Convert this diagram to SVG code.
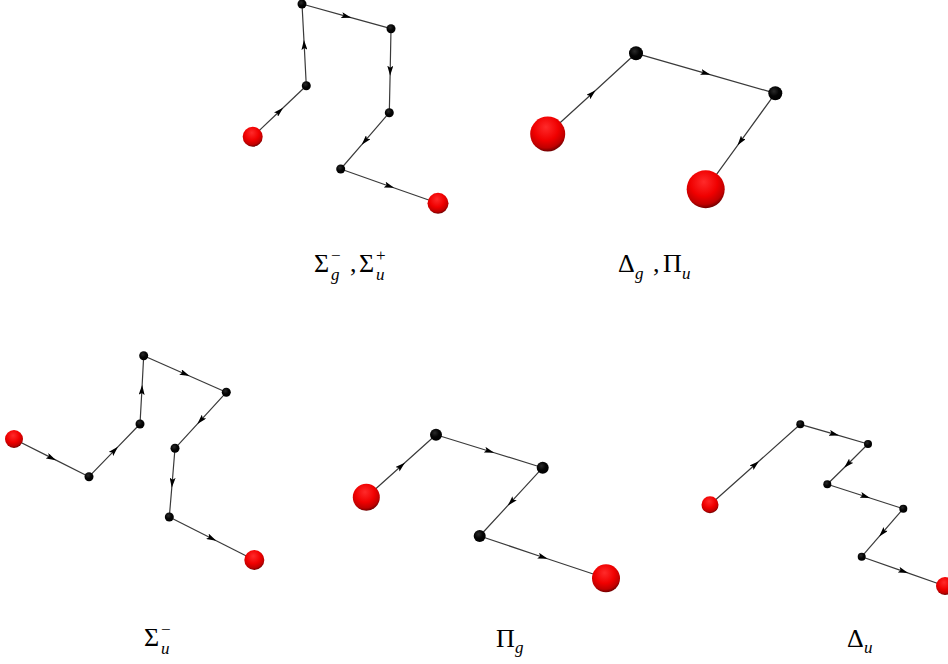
<svg xmlns="http://www.w3.org/2000/svg" width="948" height="664" viewBox="0 0 948 664">
<defs>
<radialGradient id="gRed" cx="0.45" cy="0.35" r="0.65" fx="0.45" fy="0.3">
<stop offset="0" stop-color="#ff2a2a"/>
<stop offset="0.55" stop-color="#f00000"/>
<stop offset="0.85" stop-color="#c00000"/>
<stop offset="1" stop-color="#700000"/>
</radialGradient>
<radialGradient id="gBlk" cx="0.4" cy="0.35" r="0.7">
<stop offset="0" stop-color="#2a2a2a"/>
<stop offset="0.5" stop-color="#050505"/>
<stop offset="1" stop-color="#000"/>
</radialGradient>
<marker id="arr" markerUnits="userSpaceOnUse" viewBox="0 0 10 6" markerWidth="10" markerHeight="6" refX="5" refY="3" orient="auto">
<path d="M0,0 L10,3 L0,6 L2,3 z" fill="#000"/>
</marker>
</defs>
<style>
.e{fill:none;stroke:#3a3a3a;stroke-width:1.2;marker-mid:url(#arr)}
.r{fill:url(#gRed)}
.b{fill:url(#gBlk)}
.t{font-family:"Liberation Serif","Times New Roman",serif;font-size:26px;fill:#000}
.s{font-family:"Liberation Serif","Times New Roman",serif;font-size:17px;font-style:italic;fill:#000}
.p{font-family:"Liberation Serif","Times New Roman",serif;font-size:17px;fill:#000}
</style>

<g id="connectors">
<path class="e" d="M252.7,136.7 L279.5,111.2 L306.3,85.7"/>
<path class="e" d="M306.3,85.7 L304.2,44.9 L302,4"/>
<path class="e" d="M302,4 L346.5,16.4 L391,28.7"/>
<path class="e" d="M391,28.7 L390.2,70.7 L389.3,112.7"/>
<path class="e" d="M389.3,112.7 L365,140.9 L340.7,169"/>
<path class="e" d="M340.7,169 L389.4,186.2 L438,203.3"/>
<path class="e" d="M547.7,134 L591.9,93.7 L636,53.3"/>
<path class="e" d="M636,53.3 L705.7,73.3 L775.3,93.3"/>
<path class="e" d="M775.3,93.3 L740.5,141.3 L705.7,189.3"/>
<path class="e" d="M14,439 L51.5,457.9 L89,476.7"/>
<path class="e" d="M89,476.7 L114.5,450.4 L140,424"/>
<path class="e" d="M140,424 L141.9,389.9 L143.7,355.7"/>
<path class="e" d="M143.7,355.7 L185,374 L226.3,392.3"/>
<path class="e" d="M226.3,392.3 L200.7,420.3 L175,448.3"/>
<path class="e" d="M175,448.3 L172.2,482.7 L169.3,517"/>
<path class="e" d="M169.3,517 L211.8,538.5 L254.3,560"/>
<path class="e" d="M366.3,497.3 L401.2,466 L436,434.7"/>
<path class="e" d="M436,434.7 L489.4,451.2 L542.7,467.7"/>
<path class="e" d="M542.7,467.7 L511.2,501.9 L479.7,536"/>
<path class="e" d="M479.7,536 L542.9,557.2 L606,578.3"/>
<path class="e" d="M710,504.7 L755.2,464.5 L800.3,424.3"/>
<path class="e" d="M800.3,424.3 L834.2,434.2 L868,444"/>
<path class="e" d="M868,444 L847.7,464.2 L827.3,484.3"/>
<path class="e" d="M827.3,484.3 L865.3,496.5 L903.3,508.7"/>
<path class="e" d="M903.3,508.7 L882.5,532.7 L861.7,556.7"/>
<path class="e" d="M861.7,556.7 L903.4,571.4 L945,586"/>
</g>

<g id="g1-n1"><circle class="r" cx="252.7" cy="136.7" r="10"/></g>
<g id="g1-n2"><circle class="b" cx="306.3" cy="85.7" r="4.5"/></g>
<g id="g1-n3"><circle class="b" cx="302" cy="4" r="4.5"/></g>
<g id="g1-n4"><circle class="b" cx="391" cy="28.7" r="4.5"/></g>
<g id="g1-n5"><circle class="b" cx="389.3" cy="112.7" r="4.5"/></g>
<g id="g1-n6"><circle class="b" cx="340.7" cy="169" r="4.5"/></g>
<g id="g1-n7"><circle class="r" cx="438" cy="203.3" r="10.5"/></g>

<g id="g2-n1"><circle class="r" cx="547.7" cy="134" r="17.5"/></g>
<g id="g2-n2"><circle class="b" cx="636" cy="53.3" r="7"/></g>
<g id="g2-n3"><circle class="b" cx="775.3" cy="93.3" r="7"/></g>
<g id="g2-n4"><circle class="r" cx="705.7" cy="189.3" r="19"/></g>

<g id="g3-n1"><circle class="r" cx="14" cy="439" r="9"/></g>
<g id="g3-n2"><circle class="b" cx="89" cy="476.7" r="4.5"/></g>
<g id="g3-n3"><circle class="b" cx="140" cy="424" r="4.5"/></g>
<g id="g3-n4"><circle class="b" cx="143.7" cy="355.7" r="4.5"/></g>
<g id="g3-n5"><circle class="b" cx="226.3" cy="392.3" r="4.5"/></g>
<g id="g3-n6"><circle class="b" cx="175" cy="448.3" r="4.5"/></g>
<g id="g3-n7"><circle class="b" cx="169.3" cy="517" r="4.5"/></g>
<g id="g3-n8"><circle class="r" cx="254.3" cy="560" r="10"/></g>

<g id="g4-n1"><circle class="r" cx="366.3" cy="497.3" r="13.5"/></g>
<g id="g4-n2"><circle class="b" cx="436" cy="434.7" r="6"/></g>
<g id="g4-n3"><circle class="b" cx="542.7" cy="467.7" r="6"/></g>
<g id="g4-n4"><circle class="b" cx="479.7" cy="536" r="6"/></g>
<g id="g4-n5"><circle class="r" cx="606" cy="578.3" r="14"/></g>

<g id="g5-n1"><circle class="r" cx="710" cy="504.7" r="8.5"/></g>
<g id="g5-n2"><circle class="b" cx="800.3" cy="424.3" r="4"/></g>
<g id="g5-n3"><circle class="b" cx="868" cy="444" r="4"/></g>
<g id="g5-n4"><circle class="b" cx="827.3" cy="484.3" r="4"/></g>
<g id="g5-n5"><circle class="b" cx="903.3" cy="508.7" r="4"/></g>
<g id="g5-n6"><circle class="b" cx="861.7" cy="556.7" r="4"/></g>
<g id="g5-n7"><circle class="r" cx="945" cy="586" r="9"/></g>

<g id="label1">
<text class="t" x="314" y="272">Σ</text>
<text class="s" x="331" y="280">g</text>
<text class="p" x="331" y="261">−</text>
<text class="t" x="350" y="272">,</text>
<text class="t" x="359" y="272">Σ</text>
<text class="s" x="376" y="280">u</text>
<text class="p" x="376" y="261">+</text>
</g>
<g id="label2">
<text class="t" x="618" y="272">Δ</text>
<text class="s" x="635" y="279">g</text>
<text class="t" x="653" y="272">,</text>
<text class="t" x="663" y="272">Π</text>
<text class="s" x="682" y="279">u</text>
</g>
<g id="label3">
<text class="t" x="144" y="646">Σ</text>
<text class="s" x="161" y="654">u</text>
<text class="p" x="161" y="635">−</text>
</g>
<g id="label4">
<text class="t" x="496" y="647">Π</text>
<text class="s" x="515" y="653">g</text>
</g>
<g id="label5">
<text class="t" x="847" y="647">Δ</text>
<text class="s" x="864" y="653">u</text>
</g>
</svg>
